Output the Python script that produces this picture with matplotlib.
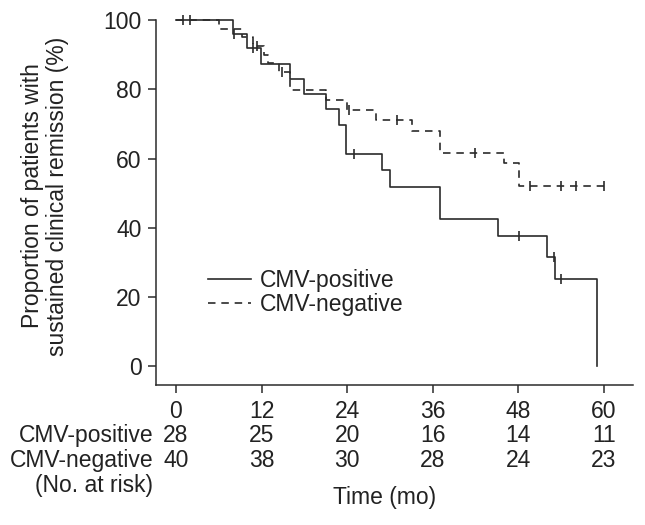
import numpy as np
import matplotlib
matplotlib.use("Agg")
import matplotlib.pyplot as plt

plt.rcParams['font.family'] = ['Liberation Sans', 'DejaVu Sans']

# Kaplan-Meier steps (months, %)
pos_t = [0, 8, 9.9, 11.9, 16, 18, 21, 22.9, 23.9, 28.9, 30, 37, 45.1, 52, 53.2, 59.1]
pos_s = [100, 96.1, 91.8, 87.2, 83.0, 78.6, 74.2, 69.7, 61.2, 56.7, 51.8, 42.5, 37.7, 31.5, 25.3, 0]
pos_cens = [1, 2, 8.2, 10.8, 24.9, 48.1, 53.0, 54.0]

neg_t = [0, 6, 9.2, 10.8, 12.3, 12.9, 14.5, 16, 21, 24, 28, 33.1, 37, 46, 48.1, 60]
neg_s = [100, 97.5, 95, 92.5, 90, 87.5, 85, 79.8, 77, 74.1, 71.1, 68, 61.7, 58.6, 52, 52]
neg_cens = [11.3, 14.8, 24.3, 31, 42, 49.6, 54, 56.1, 60]

risk_times = [0, 12, 24, 36, 48, 60]
risk_pos = [28, 25, 20, 16, 14, 11]
risk_neg = [40, 38, 30, 28, 24, 23]

col = '#2b2b2b'
tcol = '#222222'
fs = 16.5


def level(ts, ss, t):
    i = np.searchsorted(ts, t, side='right') - 1
    return np.array(ss)[i]


fig = plt.figure(figsize=(6.45, 5.25), dpi=100)
ax = fig.add_axes([0.2419, 0.2667, 0.7395, 0.6952])

ax.step(pos_t, pos_s, where='post', color=col, lw=1.2, label='CMV-positive', clip_on=False)
ax.step(neg_t, neg_s, where='post', color=col, lw=1.2, linestyle=(0, (4.5, 3.5)),
        label='CMV-negative', clip_on=False)
ax.plot(pos_cens, level(pos_t, pos_s, pos_cens), ls='none', marker='|', ms=7.5,
        mew=1.2, color=col, clip_on=False)
ax.plot(neg_cens, level(neg_t, neg_s, neg_cens), ls='none', marker='|', ms=7.5,
        mew=1.2, color=col, clip_on=False)

ax.set_xlim(-2.8, 64.1)
ax.set_ylim(-5.34, 100)
ax.set_xticks(risk_times)
ax.set_yticks([0, 20, 40, 60, 80, 100])
ax.spines['top'].set_visible(False)
ax.spines['right'].set_visible(False)
for s in ['left', 'bottom']:
    ax.spines[s].set_linewidth(1.1)
    ax.spines[s].set_color(col)
ax.tick_params(axis='both', colors=col, labelcolor=tcol, labelsize=fs, width=1.1)
ax.tick_params(axis='y', length=5.5, pad=5)
ax.tick_params(axis='x', length=6, pad=5)

leg = ax.legend(loc='upper left', bbox_to_anchor=(0.09, 0.342), frameon=False,
                fontsize=fs, handlelength=1.85, handletextpad=0.4, labelspacing=0.02,
                borderaxespad=0)
for t in leg.get_texts():
    t.set_color(tcol)

tr = ax.get_xaxis_transform()
ax.text(-3.2, -0.1397, 'CMV-positive', transform=tr, ha='right', va='center', fontsize=fs, color=tcol)
ax.text(-3.2, -0.208, 'CMV-negative', transform=tr, ha='right', va='center', fontsize=fs, color=tcol)
ax.text(-3.2, -0.2767, '(No. at risk)', transform=tr, ha='right', va='center', fontsize=fs, color=tcol)
for x, a, b in zip(risk_times, risk_pos, risk_neg):
    ax.text(x, -0.1397, str(a), transform=tr, ha='center', va='center', fontsize=fs, color=tcol)
    ax.text(x, -0.208, str(b), transform=tr, ha='center', va='center', fontsize=fs, color=tcol)
ax.text(29.3, -0.307, 'Time (mo)', transform=tr, ha='center', va='center', fontsize=fs, color=tcol)

fig.text(45 / 645, 1 - 196 / 525, 'Proportion of patients with\nsustained clinical remission (%)',
         rotation=90, ha='center', va='center', fontsize=fs, color=tcol, linespacing=1.1)

fig.savefig('out.png', dpi=100)
